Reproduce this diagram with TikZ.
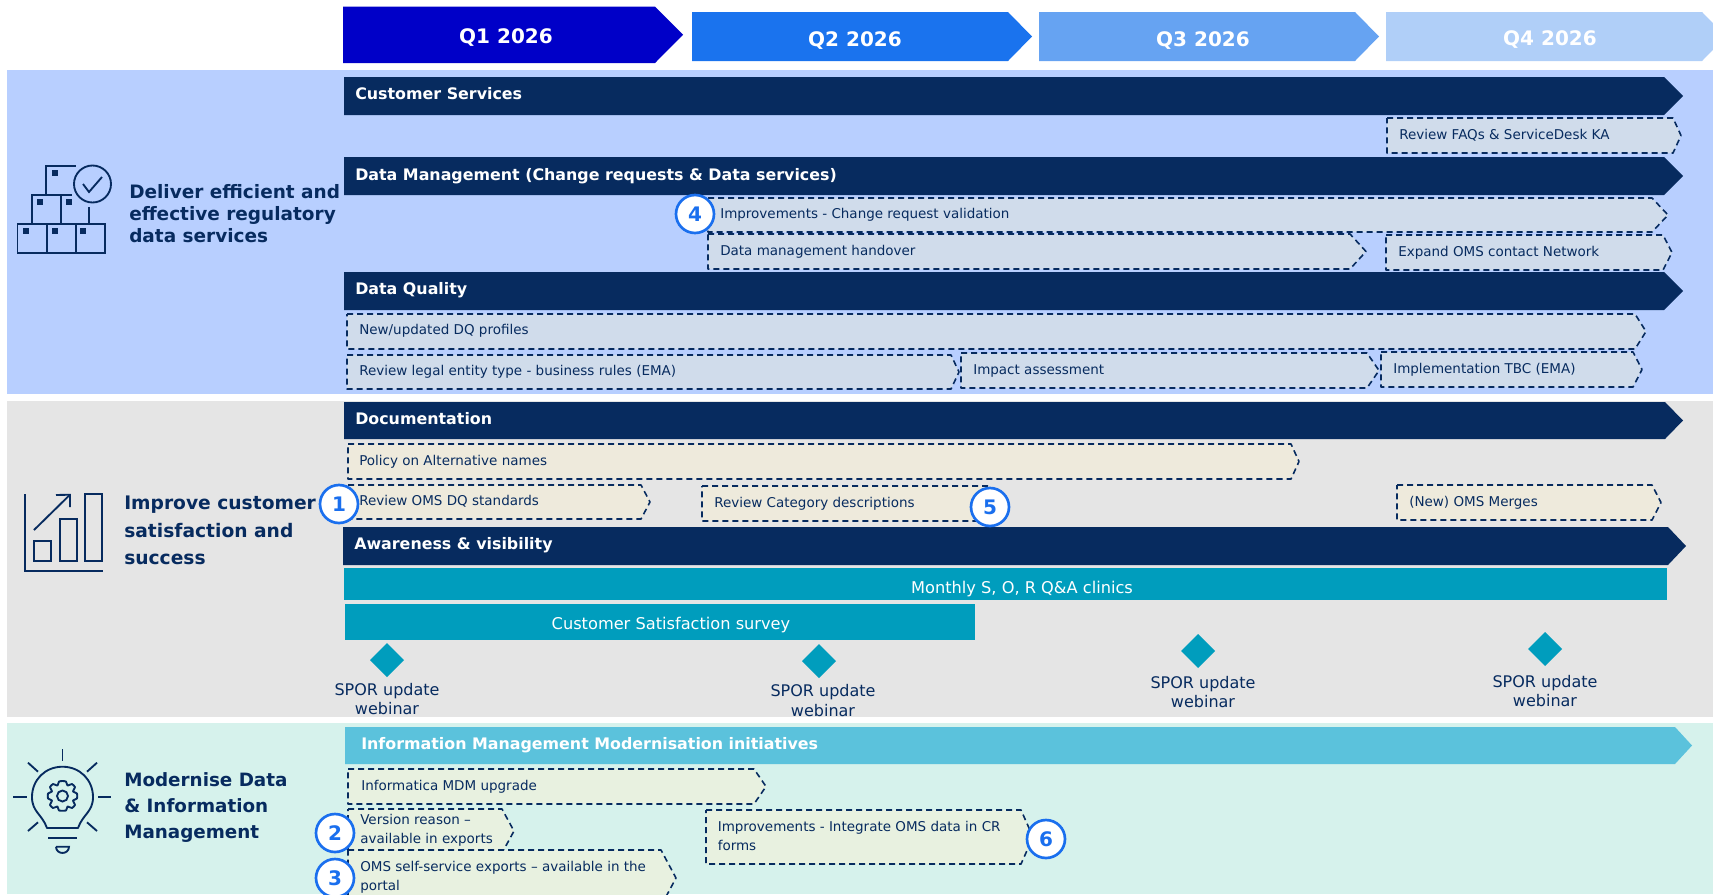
\documentclass[tikz,border=0pt]{standalone}
\usepackage{fontspec}
\setmainfont{DejaVu Sans}
\definecolor{darkbar}{HTML}{072B5F}
\definecolor{panA}{HTML}{B8CFFF}
\definecolor{panB}{HTML}{E5E5E5}
\definecolor{panC}{HTML}{D6F2EC}
\definecolor{qa}{HTML}{0000C8}
\definecolor{qb}{HTML}{1A73EE}
\definecolor{qc}{HTML}{66A3F2}
\definecolor{qd}{HTML}{B0CFF8}
\definecolor{imbar}{HTML}{5BC2DC}
\definecolor{teal}{HTML}{009DBD}
\definecolor{fillA}{HTML}{D0DCEB}
\definecolor{fillB}{HTML}{EEEADC}
\definecolor{fillC}{HTML}{E8F1E0}
\definecolor{ringblue}{HTML}{1A6FEE}
\tikzset{
  qlabel/.style={text=white,font=\fontsize{15}{18}\selectfont\bfseries,inner sep=0,anchor=center},
  barlabel/.style={text=white,font=\fontsize{11.9}{15}\selectfont\bfseries,inner sep=0,anchor=west,text height=1em,text depth=.2em},
  tasklabel/.style={text=darkbar,font=\fontsize{10.12}{14.3}\selectfont,inner sep=0,anchor=west,text height=1em,text depth=.2em},
  tasktwo/.style={text=darkbar,font=\fontsize{10.12}{14.3}\selectfont,inner sep=0,anchor=west,align=left},
  headlabel/.style={text=darkbar,font=\fontsize{13.85}{16.5}\selectfont\bfseries,inner sep=0,anchor=west,align=left},
  tealtext/.style={text=white,font=\fontsize{12.15}{15}\selectfont,inner sep=0,anchor=center},
  spor/.style={text=darkbar,font=\fontsize{12}{14.7}\selectfont,inner sep=0,anchor=center,align=center},
  taskline/.style={draw=darkbar,line width=1.2pt,dash pattern=on 4.5pt off 3pt,line join=round},
  badge/.style={circle,draw=ringblue,fill=white,line width=2pt,minimum size=28.5pt,inner sep=0,text=ringblue,font=\fontsize{15}{15}\selectfont\bfseries},
  icon/.style={draw=darkbar,line width=1.4pt,line join=miter},
  diamondmark/.style={fill=teal},
}
% x1 y1 shoulder tip y2 style
\newcommand{\chev}[6]{\path[#6] (#1,#2) -- (#3,#2) -- (#4,{(#2+#5)/2}) -- (#3,#5) -- (#1,#5) -- cycle;}
\newcommand{\dia}[3]{\path[diamondmark] (#1-#3,#2) -- (#1,#2-#3) -- (#1+#3,#2) -- (#1,#2+#3) -- cycle;}
\begin{document}
\begin{tikzpicture}[x=0.75pt,y=-0.75pt]
\useasboundingbox (0,0) rectangle (1713,894);
\clip (0,0) rectangle (1713,894);
% panels
\fill[panA] (7,70) rectangle (1713,394);
\fill[panB] (7,401) rectangle (1713,717);
\fill[panC] (7,723) rectangle (1713,894);
% quarter arrows
\chev{343}{6.5}{655}{683}{63}{fill=qa}
\chev{692}{12}{1008}{1032}{61}{fill=qb}
\chev{1039}{12}{1355}{1379}{61}{fill=qc}
\chev{1386}{12}{1702}{1726}{61}{fill=qd}
\node[qlabel] (q1) at (506,37.5) {Q1 2026};
\node[qlabel] (q2) at (855,41) {Q2 2026};
\node[qlabel] (q3) at (1203,40.5) {Q3 2026};
\node[qlabel] (q4) at (1550,40) {Q4 2026};
% main bars
\chev{344}{77}{1664}{1683}{115}{fill=darkbar}
\chev{344}{157}{1664}{1683}{195}{fill=darkbar}
\chev{344}{272}{1664}{1683}{310}{fill=darkbar}
\chev{344}{402}{1665}{1683}{439}{fill=darkbar}
\chev{343}{527}{1668}{1686}{565}{fill=darkbar}
\chev{345}{727}{1675}{1692}{764}{fill=imbar}
\node[barlabel] (b1) at (355,94) {Customer Services};
\node[barlabel] (b2) at (355,175.5) {Data Management (Change requests \& Data services)};
\node[barlabel] (b3) at (355,289) {Data Quality};
\node[barlabel] (b4) at (355,419) {Documentation};
\node[barlabel] (b5) at (354,544) {Awareness \& visibility};
\node[barlabel] (b6) at (361,744) {Information Management Modernisation initiatives};
% teal bars
\fill[teal] (344,568) rectangle (1667,600);
\fill[teal] (345,604) rectangle (975,640);
\node[tealtext] (t1) at (1022,589) {Monthly S, O, R Q\&A clinics};
\node[tealtext] (t2) at (671,625) {Customer Satisfaction survey};
% dashed tasks, panel 1
\chev{1387}{118}{1673}{1681}{153}{taskline,fill=fillA}
\chev{708}{198}{1652}{1668}{232}{taskline,fill=fillA}
\chev{708}{234}{1350}{1366}{269}{taskline,fill=fillA}
\chev{1386}{235}{1663}{1672}{270}{taskline,fill=fillA}
\chev{347}{314}{1635}{1646}{349}{taskline,fill=fillA}
\chev{347}{355}{951}{959}{389}{taskline,fill=fillA}
\chev{961}{353}{1367}{1379}{388}{taskline,fill=fillA}
\chev{1381}{352}{1633}{1642}{387}{taskline,fill=fillA}
\node[tasklabel] (a1) at (1399,134) {Review FAQs \& ServiceDesk KA};
\node[tasklabel] (a2) at (720,213) {Improvements - Change request validation};
\node[tasklabel] (a3) at (720,250) {Data management handover};
\node[tasklabel] (a4) at (1398,251) {Expand OMS contact Network};
\node[tasklabel] (a5) at (359,329) {New/updated DQ profiles};
\node[tasklabel] (a6) at (359,370) {Review legal entity type - business rules (EMA)};
\node[tasklabel] (a7) at (973,369) {Impact assessment};
\node[tasklabel] (a8) at (1393,368) {Implementation TBC (EMA)};
% dashed tasks, panel 2
\chev{348}{444}{1291}{1299}{479}{taskline,fill=fillB}
\chev{348}{485}{641}{650}{519}{taskline,fill=fillB}
\chev{702}{486}{990}{1000}{521}{taskline,fill=fillB}
\chev{1397}{485}{1652}{1661}{520}{taskline,fill=fillB}
\node[tasklabel] (c1) at (359,460) {Policy on Alternative names};
\node[tasklabel] (c2) at (359,500) {Review OMS DQ standards};
\node[tasklabel] (c3) at (714,502) {Review Category descriptions};
\node[tasklabel] (c4) at (1409,501) {(New) OMS Merges};
% dashed tasks, panel 3
\chev{348}{769}{754}{766}{804}{taskline,fill=fillC}
\chev{348}{809}{502}{514}{853}{taskline,fill=fillC}
\chev{348}{850}{661}{676}{906}{taskline,fill=fillC}
\chev{706}{810}{1021}{1033}{864}{taskline,fill=fillC}
\node[tasklabel] (d1) at (361,785) {Informatica MDM upgrade};
\node[tasktwo] (d2) at (360,830.5) {Version reason –\\available in exports};
\node[tasktwo] (d3) at (360,877.5) {OMS self-service exports – available in the\\portal};
\node[tasktwo] (d4) at (717.5,835.5) {Improvements - Integrate OMS data in CR\\forms};
% diamonds + labels
\dia{387}{660}{17}
\dia{819}{661}{17}
\dia{1198}{651}{17}
\dia{1545}{649}{17}
\node[spor] (s1) at (387,699) {SPOR update\\webinar};
\node[spor] (s2) at (823,700.5) {SPOR update\\webinar};
\node[spor] (s3) at (1203,692) {SPOR update\\webinar};
\node[spor] (s4) at (1545,691) {SPOR update\\webinar};
% headings
\node[headlabel] (h1) at (129,214) {Deliver efficient and\\effective regulatory\\data services};
\node[headlabel,font=\fontsize{14}{20.5}\selectfont\bfseries] (h2) at (124,530.5) {Improve customer\\satisfaction and\\success};
\node[headlabel,font=\fontsize{13.75}{19.7}\selectfont\bfseries] (h3) at (124,807.5) {Modernise Data\\\& Information\\Management};
% badges
\node[badge] (n1) at (339,504) {1};
\node[badge] (n2) at (335,833) {2};
\node[badge] (n3) at (335,878) {3};
\node[badge] (n4) at (695,214) {4};
\node[badge] (n5) at (990,507) {5};
\node[badge] (n6) at (1046,839) {6};
% icon 1: boxes
\draw[icon] (17.5,224) rectangle (105,253);
\draw[icon] (47,224) -- (47,253) (76,224) -- (76,253);
\draw[icon] (32,224) -- (32,195) -- (71.5,195);
\draw[icon] (61,195) -- (61,224) (89,224) -- (89,207);
\draw[icon] (46,195) -- (46,166) -- (76,166);
\draw[icon] (92.5,184) circle (18.5);
\draw[icon] (83,184) -- (89,192) -- (102,177);
\foreach \px/\py in {54.5/173,40/202,69/202,26/231,54.5/231,83/231}
  \fill[darkbar] (\px-3,\py-3) rectangle (\px+3,\py+3);
% icon 2: chart
\draw[icon] (25.4,494) -- (25.4,570.7) -- (103,570.7);
\draw[icon] (34.4,540.7) rectangle (51.3,561);
\draw[icon] (59.8,519) rectangle (76.8,561);
\draw[icon] (84.8,494) rectangle (101.8,561);
\draw[icon] (34,530) -- (70,494.7);
\draw[icon] (56,495) -- (70,494.7) -- (70,507);
% icon 3: bulb
\draw[icon] (62.5,749) -- (62.5,760.7);
\draw[icon] (13.4,796.7) -- (26.8,796.7) (98,796.7) -- (110.7,796.7);
\draw[icon] (28,762.7) -- (38,771.7) (97,762.7) -- (87,771.7);
\draw[icon] (28,831) -- (38,822.3) (97,831) -- (87,822.3);
\draw[icon,line join=round] (47,828) .. controls (42,814) and (32,812) .. (32,797)
  .. controls (32,780) and (45,766.7) .. (62.5,766.7)
  .. controls (80,766.7) and (93,780) .. (93,797)
  .. controls (93,812) and (83,814) .. (78,828) -- cycle;
\draw[icon] (48,837.7) -- (77,837.7);
\draw[icon] (56,846.7) -- (69,846.7) .. controls (69,855) and (56,855) .. (56,846.7);
\draw[icon,line join=round] plot[smooth cycle,tension=0.25] coordinates {
  (62.5,781) (66,781.5) (67.5,785.5) (72,784) (75,787) (73,791.5) (77,793.5) (77,798.5) (73,800.5) (75,805) (72,808) (67.5,806.5) (66,810.5) (59,810.5) (57.5,806.5) (53,808) (50,805) (52,800.5) (48,798.5) (48,793.5) (52,791.5) (50,787) (53,784) (57.5,785.5) (59,781.5)};
\draw[icon] (62.5,796) circle (5.5);
\end{tikzpicture}
\end{document}
